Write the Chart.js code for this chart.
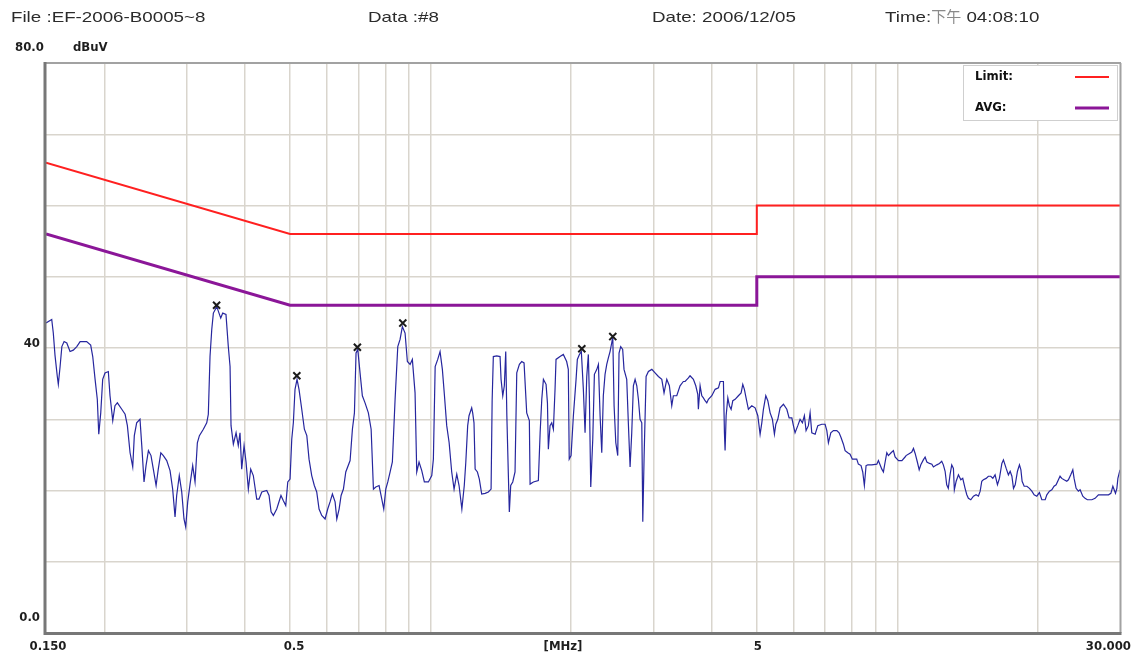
<!DOCTYPE html>
<html lang="zh-Hant">
<head>
<meta charset="UTF-8">
<title>EF-2006-B0005~8</title>
<script src="https://cdn.jsdelivr.net/npm/chart.js"></script>
<style>
  html, body { margin: 0; padding: 0; background: #fff; }
  #wrap { width: 1133px; height: 657px; }
</style>
</head>
<body>
<div id="wrap"><canvas id="emi" width="1133" height="657"></canvas></div>
<script>
const traceFreq = [
  0.150, 0.1543, 0.1555, 0.1568, 0.1586, 0.1594, 0.1608, 0.1622, 0.1640, 0.1662,
  0.1689, 0.1716, 0.1746, 0.1775, 0.1833, 0.1870, 0.1889, 0.1911, 0.1932, 0.1946,
  0.1965, 0.1984, 0.2007, 0.2040, 0.2057, 0.2085, 0.2108, 0.2133, 0.2180, 0.2216,
  0.2241, 0.2271, 0.2301, 0.2319, 0.2346, 0.2385, 0.2406, 0.2433, 0.2457, 0.2486,
  0.2518, 0.2547, 0.2582, 0.2610, 0.2643, 0.2676, 0.2721, 0.2766, 0.2802, 0.2835,
  0.2858, 0.2895, 0.2930, 0.2963, 0.2988, 0.3018, 0.3053, 0.3093, 0.3129, 0.3165,
  0.3197, 0.3260, 0.3315, 0.3341, 0.3369, 0.3398, 0.3425, 0.3483, 0.3552, 0.3587,
  0.3645, 0.3687, 0.3719, 0.3737, 0.3780, 0.3831, 0.3873, 0.3906, 0.3939, 0.3985,
  0.4024, 0.4070, 0.4118, 0.4171, 0.4242, 0.4290, 0.4350, 0.4457, 0.4508, 0.4553,
  0.4605, 0.4682, 0.4781, 0.4835, 0.4895, 0.4944, 0.5000, 0.5042, 0.5082, 0.5124,
  0.5175, 0.5226, 0.5297, 0.5366, 0.5431, 0.5491, 0.5564, 0.5636, 0.5703, 0.5769,
  0.5846, 0.5943, 0.6021, 0.6091, 0.6162, 0.6244, 0.6297, 0.6369, 0.6432, 0.6506,
  0.6582, 0.6724, 0.6801, 0.6869, 0.6924, 0.6983, 0.7063, 0.7143, 0.7238, 0.7358,
  0.7459, 0.7544, 0.7632, 0.7757, 0.7833, 0.7938, 0.8018, 0.8098, 0.8192, 0.8283,
  0.8395, 0.8507, 0.8603, 0.8702, 0.8818, 0.8919, 0.9039, 0.9141, 0.9264, 0.9341,
  0.9448, 0.9575, 0.9699, 0.9894, 1.006, 1.014, 1.023, 1.036, 1.048, 1.060,
  1.071, 1.083, 1.096, 1.110, 1.123, 1.138, 1.151, 1.167, 1.181, 1.190,
  1.201, 1.209, 1.225, 1.231, 1.239, 1.246, 1.260, 1.272, 1.287, 1.309,
  1.330, 1.348, 1.355, 1.363, 1.386, 1.409, 1.416, 1.428, 1.439, 1.449,
  1.457, 1.468, 1.475, 1.485, 1.500, 1.517, 1.530, 1.550, 1.568, 1.586,
  1.607, 1.628, 1.634, 1.661, 1.702, 1.717, 1.731, 1.745, 1.768, 1.780,
  1.788, 1.803, 1.818, 1.833, 1.848, 1.857, 1.894, 1.925, 1.957, 1.973,
  1.982, 2.000, 2.023, 2.050, 2.063, 2.084, 2.104, 2.125, 2.143, 2.161,
  2.178, 2.189, 2.204, 2.226, 2.244, 2.271, 2.289, 2.308, 2.327, 2.345,
  2.365, 2.385, 2.404, 2.424, 2.444, 2.457, 2.473, 2.494, 2.518, 2.534,
  2.555, 2.580, 2.597, 2.632, 2.653, 2.676, 2.698, 2.720, 2.743, 2.766,
  2.788, 2.811, 2.835, 2.849, 2.868, 2.896, 2.929, 2.979, 3.027, 3.077,
  3.129, 3.164, 3.207, 3.248, 3.287, 3.313, 3.369, 3.424, 3.480, 3.510,
  3.568, 3.597, 3.657, 3.700, 3.737, 3.748, 3.780, 3.812, 3.842, 3.874,
  3.907, 3.938, 4.005, 4.071, 4.138, 4.173, 4.241, 4.262, 4.276, 4.298,
  4.334, 4.368, 4.405, 4.442, 4.493, 4.566, 4.628, 4.666, 4.703, 4.742,
  4.797, 4.878, 4.958, 5.025, 5.082, 5.125, 5.166, 5.227, 5.279, 5.340,
  5.400, 5.454, 5.492, 5.546, 5.609, 5.702, 5.798, 5.864, 5.943, 5.990,
  6.039, 6.121, 6.190, 6.262, 6.323, 6.376, 6.449, 6.504, 6.558, 6.667,
  6.756, 6.890, 7.003, 7.063, 7.119, 7.203, 7.297, 7.420, 7.505, 7.579,
  7.665, 7.730, 7.832, 7.921, 8.011, 8.091, 8.186, 8.252, 8.362, 8.432,
  8.500, 8.572, 8.644, 8.816, 9.039, 9.110, 9.265, 9.338, 9.417, 9.495,
  9.570, 9.698, 9.808, 9.892, 10.06, 10.23, 10.39, 10.44, 10.62, 10.74,
  10.83, 10.92, 11.04, 11.14, 11.23, 11.37, 11.47, 11.57, 11.72, 11.86,
  11.95, 12.15, 12.31, 12.45, 12.55, 12.66, 12.76, 12.86, 12.97, 13.08,
  13.19, 13.25, 13.37, 13.52, 13.68, 13.81, 13.97, 14.09, 14.20, 14.37,
  14.56, 14.75, 14.92, 15.05, 15.17, 15.29, 15.50, 15.67, 15.86, 16.02,
  16.20, 16.39, 16.55, 16.75, 16.88, 17.11, 17.30, 17.45, 17.60, 17.74,
  17.89, 18.09, 18.27, 18.40, 18.51, 18.70, 18.95, 19.19, 19.42, 19.64,
  19.90, 20.16, 20.40, 20.74, 20.91, 21.18, 21.43, 21.67, 21.89, 22.14,
  22.32, 22.51, 22.77, 23.07, 23.26, 23.53, 23.77, 23.92, 24.16, 24.43,
  24.64, 24.97, 25.25, 25.54, 26.11, 26.53, 26.97, 27.43, 27.88, 28.35,
  28.68, 28.96, 29.15, 29.34, 29.54, 29.69, 30.00
];
const traceLevel = [
  43.5, 44.0, 42.1, 39.0, 36.0, 34.9, 37.4, 40.2, 40.9, 40.7,
  39.5, 39.7, 40.2, 40.9, 40.9, 40.4, 38.8, 35.6, 32.8, 27.9,
  30.9, 35.6, 36.5, 36.7, 33.3, 29.8, 31.9, 32.3, 31.4, 30.7,
  29.1, 25.3, 23.3, 27.7, 29.5, 30.0, 26.3, 21.2, 23.5, 25.6,
  24.9, 23.0, 20.7, 23.0, 25.3, 24.9, 24.2, 22.8, 20.2, 16.3,
  19.3, 22.1, 19.8, 16.0, 14.9, 18.4, 20.9, 23.5, 21.2, 26.7,
  27.7, 28.6, 29.5, 30.7, 38.8, 42.6, 44.9, 45.8, 44.2, 44.9,
  44.7, 40.2, 37.4, 29.1, 26.5, 28.1, 26.3, 28.1, 23.0, 26.3,
  24.0, 20.2, 23.0, 22.1, 18.8, 18.8, 19.8, 20.0, 19.3, 17.0,
  16.5, 17.4, 19.3, 18.6, 17.9, 21.2, 21.6, 27.2, 29.5, 34.2,
  35.6, 34.2, 31.4, 28.6, 27.7, 24.4, 22.1, 20.7, 19.8, 17.4,
  16.5, 16.0, 17.4, 18.4, 19.5, 18.4, 16.0, 17.4, 19.3, 20.2,
  22.6, 24.2, 28.6, 30.9, 39.3, 39.8, 36.5, 33.3, 32.3, 30.9,
  28.6, 20.2, 20.5, 20.7, 19.3, 17.4, 20.2, 21.2, 22.6, 24.0,
  32.8, 40.2, 41.2, 43.0, 42.1, 38.1, 37.7, 38.4, 33.7, 22.6,
  24.0, 22.8, 21.2, 21.2, 22.1, 24.4, 37.4, 38.4, 39.5, 37.0,
  33.3, 29.1, 26.7, 22.6, 20.2, 22.3, 20.7, 17.4, 20.7, 24.0,
  29.1, 30.5, 31.6, 30.9, 29.5, 23.0, 22.6, 21.6, 19.5, 19.6,
  19.8, 20.2, 32.6, 38.8, 38.9, 38.8, 35.6, 33.3, 34.7, 39.5,
  30.5, 22.1, 17.0, 20.7, 21.2, 22.6, 36.5, 37.7, 38.1, 37.9,
  30.9, 29.8, 20.9, 21.2, 21.4, 28.1, 32.8, 35.6, 34.9, 32.3,
  25.8, 29.1, 29.5, 28.6, 34.2, 38.4, 38.8, 39.1, 38.1, 37.0,
  24.4, 24.9, 30.5, 35.6, 38.4, 39.1, 39.5, 34.2, 28.1, 36.0,
  39.1, 33.3, 20.5, 27.2, 36.3, 37.0, 37.7, 30.5, 25.3, 33.3,
  36.3, 37.7, 38.6, 39.5, 40.7, 41.6, 31.9, 26.7, 24.9, 39.3,
  40.2, 39.8, 37.0, 35.6, 29.5, 23.3, 28.1, 34.7, 35.6, 34.7,
  32.8, 30.0, 29.5, 15.6, 24.9, 36.0, 36.7, 37.0, 36.5, 36.0,
  35.6, 33.7, 35.6, 34.7, 31.9, 33.3, 33.3, 34.7, 35.3, 35.3,
  35.8, 36.1, 35.6, 34.7, 33.5, 31.4, 34.7, 33.3, 33.0, 32.6,
  32.3, 32.8, 33.3, 34.2, 34.4, 35.3, 35.3, 28.1, 25.6, 30.5,
  33.0, 31.9, 31.4, 32.6, 32.8, 33.3, 33.7, 34.9, 34.2, 33.0,
  31.4, 31.9, 31.6, 30.5, 27.9, 29.5, 31.4, 33.3, 32.6, 30.9,
  30.0, 27.9, 29.3, 30.0, 31.6, 32.1, 31.4, 30.2, 30.2, 29.1,
  28.1, 29.1, 30.0, 29.5, 30.5, 28.4, 29.1, 30.9, 28.1, 27.9,
  29.1, 29.3, 29.3, 28.4, 26.7, 28.1, 28.4, 28.4, 28.1, 27.4,
  26.5, 25.6, 25.3, 25.1, 24.4, 24.4, 24.4, 23.7, 23.5, 22.6,
  20.7, 23.5, 23.6, 23.6, 23.7, 24.2, 23.0, 22.6, 24.0, 25.3,
  24.9, 25.3, 25.6, 24.7, 24.2, 24.2, 24.7, 24.9, 25.2, 25.4,
  25.9, 25.2, 24.0, 22.9, 23.6, 24.3, 24.7, 24.0, 23.8, 23.7,
  23.3, 23.6, 23.8, 24.1, 23.6, 22.7, 20.8, 20.3, 22.2, 23.6,
  23.1, 20.1, 21.3, 22.2, 21.5, 21.7, 20.3, 19.4, 18.9, 18.7,
  19.2, 19.4, 19.2, 19.9, 21.3, 21.5, 21.7, 22.0, 22.0, 21.7,
  22.2, 20.8, 21.7, 23.8, 24.3, 23.1, 22.2, 22.7, 22.0, 20.3,
  20.8, 22.7, 23.6, 22.9, 21.3, 20.6, 20.6, 20.3, 19.9, 19.4,
  19.2, 19.7, 18.7, 18.7, 19.4, 19.9, 20.1, 20.6, 20.8, 21.5,
  22.0, 21.7, 21.5, 21.3, 21.5, 22.2, 22.9, 21.7, 20.3, 19.9,
  20.1, 19.2, 18.9, 18.7, 18.7, 18.9, 19.4, 19.4, 19.4, 19.4,
  19.6, 20.6, 20.1, 19.6, 20.3, 21.7, 22.9
];

// limit lines
const limitFreq = [0.15, 0.5, 5, 5, 30];
const limitLevel = [66, 56, 56, 60, 60];
const avgFreq = [0.15, 0.5, 5, 5, 30];
const avgLevel = [56, 46, 46, 50, 50];

// marked peaks
const peakFreq = [0.348, 0.517, 0.697, 0.872, 2.109, 2.457];
const peakLevel = [46.0, 36.1, 40.1, 43.5, 39.9, 41.6];

// axes
const gridFreqs = [0.2, 0.3, 0.4, 0.5, 0.6, 0.7, 0.8, 0.9, 1, 2, 3, 4, 5, 6, 7, 8, 9, 10, 20];
const xTickValues = [0.15, 0.5, 5, 30];
const xTickLabels = ['0.150', '0.5', '5', '30.000'];
const yTickValues = [80, 40, 0];
const yTickLabels = ['80.0', '40', '0.0'];

const header = {
  file: 'File :EF-2006-B0005~8',
  data: 'Data :#8',
  date: 'Date: 2006/12/05',
  time: ['Time:', '下午', ' 04:08:10']
};

const toXY = (xs, ys) => xs.map((f, i) => ({ x: f, y: ys[i] }));

const HEAD_FONT = '15px "Liberation Sans", Arial, "Noto Sans CJK TC", sans-serif';
const AXIS_FONT = 'bold 13px "DejaVu Sans Condensed", "Liberation Sans Narrow", sans-serif';

// text drawn a bit wider than the font, like the original printout
function wideText(c, text, x, y, sx, align) {
  c.save();
  c.translate(x, y);
  c.scale(sx, 1);
  c.textAlign = align || 'left';
  c.fillText(text, 0, 0);
  c.restore();
  return c.measureText(text).width * sx;
}

const framePlugin = {
  id: 'frame',
  beforeDraw(chart) {
    const c = chart.ctx;
    c.save();
    c.fillStyle = '#ffffff';
    c.fillRect(0, 0, chart.width, chart.height);
    c.restore();
  },
  afterDraw(chart) {
    const c = chart.ctx;
    const a = chart.chartArea;
    const xs = chart.scales.x;
    const ys = chart.scales.y;
    c.save();

    // plot frame
    c.lineCap = 'butt';
    c.strokeStyle = '#a2a2a2';
    c.lineWidth = 2;
    c.beginPath();
    c.moveTo(a.left, a.top); c.lineTo(a.right + 1, a.top);
    c.moveTo(a.right + 0.5, a.top); c.lineTo(a.right + 0.5, a.bottom);
    c.stroke();
    c.strokeStyle = '#777777';
    c.lineWidth = 3;
    c.beginPath();
    c.moveTo(a.left - 1, a.top - 1); c.lineTo(a.left - 1, a.bottom + 1.5);
    c.moveTo(a.left - 2.5, a.bottom + 0.5); c.lineTo(a.right + 1.5, a.bottom + 0.5);
    c.stroke();

    // header
    c.fillStyle = '#2b2b2b';
    c.textBaseline = 'middle';
    c.font = HEAD_FONT;
    wideText(c, header.file, 11, 18, 1.25);
    wideText(c, header.data, 368, 18, 1.25);
    wideText(c, header.date, 652, 18, 1.25);
    let tx = 885;
    tx += wideText(c, header.time[0], tx, 18, 1.25);
    c.fillStyle = '#8a8a8a';
    tx += wideText(c, header.time[1], tx, 18, 1.0);
    c.fillStyle = '#2b2b2b';
    wideText(c, header.time[2], tx, 18, 1.25);

    // y labels
    c.font = AXIS_FONT;
    c.fillStyle = '#1e1e1e';
    wideText(c, yTickLabels[0], 15, 48, 1.0, 'left');
    wideText(c, 'dBuV', 73, 48, 1.0, 'left');
    wideText(c, yTickLabels[1], 40, ys.getPixelForValue(yTickValues[1]) - 4, 1.0, 'right');
    wideText(c, yTickLabels[2], 40, ys.getPixelForValue(yTickValues[2]) - 15, 1.0, 'right');

    // x labels
    const ly = a.bottom + 14;
    wideText(c, xTickLabels[0], xs.getPixelForValue(xTickValues[0]) + 2, ly, 1.0, 'center');
    wideText(c, xTickLabels[1], xs.getPixelForValue(xTickValues[1]) + 4, ly, 1.0, 'center');
    wideText(c, '[MHz]', 563, ly, 1.0, 'center');
    wideText(c, xTickLabels[2], xs.getPixelForValue(xTickValues[2]) + 1, ly, 1.0, 'center');
    wideText(c, xTickLabels[3], xs.getPixelForValue(xTickValues[3]) + 11, ly, 1.0, 'right');

    // legend box
    const bx = 963, by = 65, bw = 154, bh = 55;
    c.fillStyle = '#ffffff';
    c.fillRect(bx, by, bw, bh);
    c.strokeStyle = '#cfcfcf';
    c.lineWidth = 1;
    c.strokeRect(bx + 0.5, by + 0.5, bw, bh);
    const items = chart.data.datasets.slice(0, 2);
    items.forEach((ds, i) => {
      const iy = by + 12 + i * 31;
      c.fillStyle = '#111111';
      c.font = AXIS_FONT;
      wideText(c, ds.label, 975, iy, 1.0, 'left');
      c.strokeStyle = ds.borderColor;
      c.lineWidth = ds.borderWidth;
      c.beginPath();
      c.moveTo(1075, iy);
      c.lineTo(1109, iy);
      c.stroke();
    });
    c.restore();
  }
};

const gridStyle = { color: '#d9d5cd', lineWidth: 1.5, drawTicks: false };

new Chart(document.getElementById('emi').getContext('2d'), {
  type: 'line',
  data: {
    datasets: [
      { label: 'Limit:', data: toXY(limitFreq, limitLevel), borderColor: '#ff2020', borderWidth: 2, pointRadius: 0, order: 2 },
      { label: 'AVG:', data: toXY(avgFreq, avgLevel), borderColor: '#8b1698', borderWidth: 3, pointRadius: 0, order: 2 },
      { label: 'Trace', data: toXY(traceFreq, traceLevel), borderColor: '#26269e', borderWidth: 1.2, pointRadius: 0, order: 3 },
      { label: 'Peak', data: toXY(peakFreq, peakLevel), showLine: false, pointStyle: 'crossRot',
        pointRadius: 5, borderColor: '#1b1b1b', borderWidth: 2, order: 0 }
    ]
  },
  options: {
    responsive: false,
    animation: false,
    devicePixelRatio: 1,
    layout: { padding: { left: 46, right: 13, top: 63, bottom: 24 } },
    plugins: { legend: { display: false }, tooltip: { enabled: false } },
    scales: {
      x: {
        type: 'logarithmic',
        min: 0.15,
        max: 30,
        afterBuildTicks: s => { s.ticks = gridFreqs.map(v => ({ value: v })); },
        afterFit: s => { s.height = 0; },
        ticks: { display: false },
        grid: gridStyle,
        border: { display: false }
      },
      y: {
        min: 0,
        max: 80,
        ticks: { stepSize: 10, display: false },
        afterFit: s => { s.width = 0; },
        grid: gridStyle,
        border: { display: false }
      }
    }
  },
  plugins: [framePlugin]
});
</script>
</body>
</html>
